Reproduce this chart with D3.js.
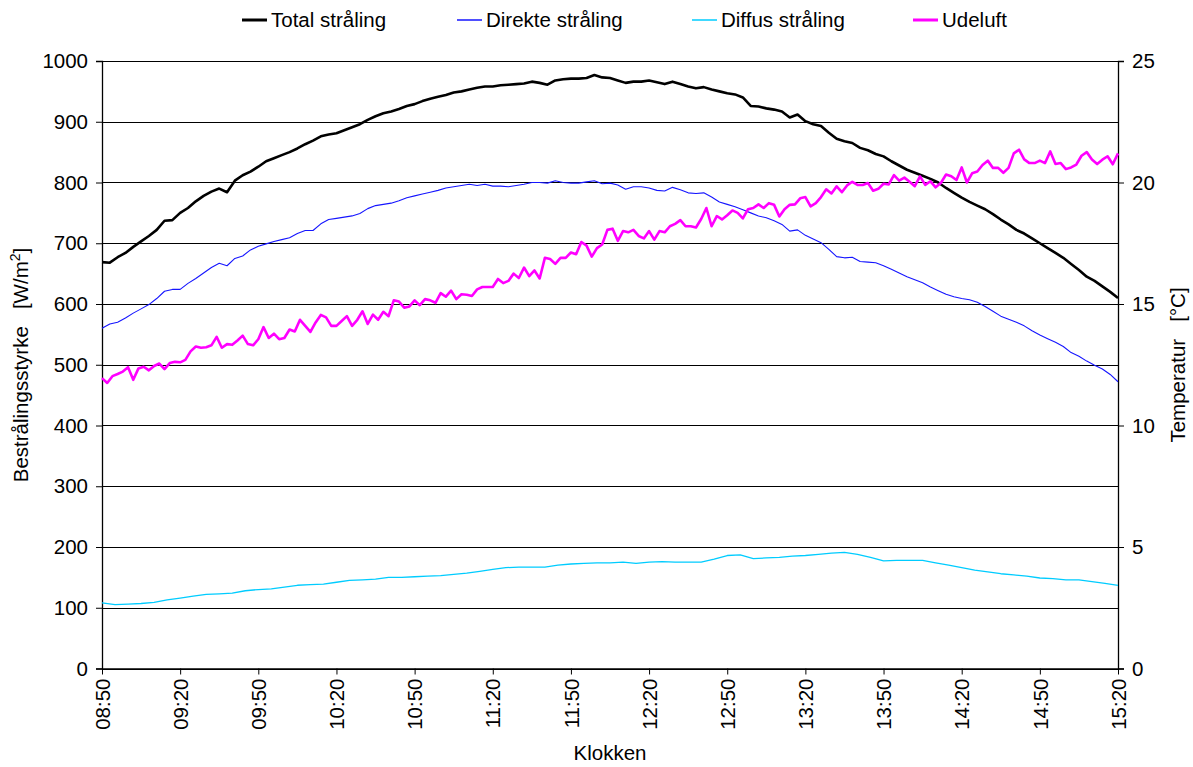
<!DOCTYPE html>
<html>
<head>
<meta charset="utf-8">
<script src="https://cdn.jsdelivr.net/npm/d3@7"></script>
<style>
  html, body { margin: 0; padding: 0; background: #fff; }
  svg { display: block; font-family: "Liberation Sans", Arial, sans-serif; }
  .pre { white-space: pre; }
</style>
</head>
<body>
<svg id="chart" width="1193" height="767"></svg>
<script>
// Clock tick labels along the time axis
const timeTicks = ["08:50","09:20","09:50","10:20","10:50","11:20","11:50","12:20","12:50","13:20","13:50","14:20","14:50","15:20"];
const leftTicks = [0,100,200,300,400,500,600,700,800,900,1000];
const rightTicks = [0,5,10,15,20,25];

// Total irradiance [W/m2], one reading every 3 minutes from 08:50
const totalStep = 3;
const totalValues = [669,668,677,684,694,703,712,722,737,738,750,758,769,778,785,790,784,803,812,818,
  826,835,840,845,850,856,863,869,876,879,881,886,891,896,903,909,914,917,921,926,
  929,934,938,941,944,948,950,953,956,958,958,960,961,962,963,966,964,961,968,970,
  971,971,972,977,973,972,968,964,966,966,968,965,962,966,962,958,955,957,953,950,
  947,945,940,926,925,922,920,917,907,912,901,896,893,882,872,868,865,857,853,847,
  843,835,828,821,816,811,806,800,791,783,775,768,762,756,748,739,731,722,716,708,
  700,692,684,676,666,656,645,638,629,620,610];

// Direct irradiance [W/m2], every 3 minutes
const direkteStep = 3;
const direkteValues = [560,567,570,577,585,592,599,609,621,624,624,634,642,651,660,667,663,675,679,689,
  695,699,703,706,709,716,721,721,732,739,741,743,745,749,757,762,764,766,770,775,
  778,781,784,787,791,793,795,797,795,797,794,794,793,795,797,800,800,799,803,800,
  799,799,801,803,798,799,796,789,793,793,791,787,786,792,788,783,782,783,776,768,
  764,760,755,750,745,742,737,731,720,722,713,707,701,690,678,676,677,670,669,668,
  663,657,651,645,640,635,628,622,616,612,609,607,603,596,588,580,575,570,564,556,
  549,543,537,530,520,514,506,499,493,484,472];

// Diffuse irradiance [W/m2], every 5 minutes
const diffusStep = 5;
const diffusValues = [108,105,106,107,109,113,116,119,122,123,124,128,130,131,134,137,138,139,142,145,
  146,147,150,150,151,152,153,155,157,160,163,166,167,167,167,170,172,173,174,174,
  175,173,175,176,175,175,175,180,186,187,181,182,183,185,186,188,190,191,188,183,
  177,178,178,178,174,170,166,162,159,156,154,152,149,148,146,146,143,140,137];

// Outdoor air temperature [°C], every 2 minutes
const udeluftStep = 2;
const udeluftValues = [11.95,11.75,12.03,12.12,12.22,12.40,11.88,12.35,12.42,12.27,12.45,12.55,12.32,12.57,12.62,12.60,12.70,13.05,13.25,13.20,
  13.22,13.30,13.65,13.20,13.35,13.32,13.50,13.70,13.35,13.30,13.55,14.05,13.60,13.78,13.55,13.60,13.95,13.87,14.35,14.10,
  13.85,14.24,14.55,14.45,14.10,14.10,14.30,14.50,14.10,14.35,14.70,14.18,14.56,14.35,14.68,14.50,15.15,15.10,14.85,14.90,
  15.15,14.95,15.20,15.15,15.05,15.45,15.30,15.55,15.20,15.40,15.38,15.33,15.60,15.70,15.70,15.70,16.03,15.86,15.95,16.25,
  16.07,16.50,16.15,16.38,16.05,16.90,16.85,16.65,16.90,16.90,17.12,17.05,17.55,17.40,16.95,17.30,17.45,18.05,18.10,17.60,
  18.00,17.95,18.05,17.80,17.70,18.00,17.65,18.00,17.95,18.20,18.30,18.45,18.20,18.20,18.15,18.50,18.95,18.20,18.62,18.48,
  18.65,18.85,18.75,18.52,18.90,18.95,19.10,18.95,19.15,19.08,18.60,18.90,19.08,19.10,19.35,19.40,19.02,19.15,19.40,19.72,
  19.55,19.84,19.60,19.88,20.03,19.90,19.90,19.98,19.66,19.74,19.95,19.92,20.30,20.08,20.20,20.03,19.85,20.25,19.90,20.05,
  19.80,19.98,20.33,20.26,20.10,20.62,20.00,20.38,20.45,20.72,20.90,20.60,20.60,20.40,20.60,21.20,21.35,20.95,20.80,20.80,
  20.90,20.80,21.28,20.76,20.80,20.55,20.62,20.74,21.10,21.25,20.95,20.76,20.94,21.08,20.75,21.20];

const seriesNames = ["Total stråling","Direkte stråling","Diffus stråling","Udeluft"];

// ---------------------------------------------------------------
const svg = d3.select("#chart");
const plot = { left: 102, right: 1118, top: 61, bottom: 668.5 };
const font = 20.5;

const parseClock = d3.timeParse("%H:%M");
const start = parseClock(timeTicks[0]);
const end = parseClock(timeTicks[timeTicks.length - 1]);
const atMinute = m => new Date(start.getTime() + m * 60000);

const x = d3.scaleTime().domain([start, end]).range([plot.left, plot.right]);
const yL = d3.scaleLinear().domain([0, 1000]).range([plot.bottom, plot.top]);
const yR = d3.scaleLinear().domain([0, 25]).range([plot.bottom, plot.top]);

// horizontal gridlines
svg.append("g")
  .selectAll("line")
  .data(leftTicks)
  .join("line")
  .attr("x1", plot.left).attr("x2", plot.right)
  .attr("y1", d => Math.round(yL(d)) + 0.5).attr("y2", d => Math.round(yL(d)) + 0.5)
  .attr("stroke", "#000")
  .attr("stroke-width", 1);

// left axis
const leftAxis = svg.append("g")
  .attr("transform", `translate(${plot.left},0)`)
  .call(d3.axisLeft(yL).tickValues(leftTicks).tickSize(6).tickPadding(8).tickFormat(d3.format("d")));
// right axis
const rightAxis = svg.append("g")
  .attr("transform", `translate(${plot.right},0)`)
  .call(d3.axisRight(yR).tickValues(rightTicks).tickSize(6).tickPadding(8).tickFormat(d3.format("d")));
// bottom axis
const bottomAxis = svg.append("g")
  .attr("transform", `translate(0,${plot.bottom})`)
  .call(d3.axisBottom(x).tickValues(timeTicks.map(parseClock)).tickSize(6).tickSizeOuter(0).tickFormat(d3.timeFormat("%H:%M")));

[leftAxis, rightAxis, bottomAxis].forEach(g => {
  g.select(".domain").attr("stroke", "#000").attr("stroke-width", 1.3);
  g.selectAll(".tick line").attr("stroke", "#000");
  g.selectAll("text").attr("font-size", font).attr("fill", "#000")
    .attr("font-family", '"Liberation Sans", Arial, sans-serif');
});
bottomAxis.selectAll("text")
  .attr("transform", "rotate(-90)")
  .attr("text-anchor", "end")
  .attr("x", -10).attr("y", 0).attr("dy", "0.35em");

// series lines
const lineL = (step) => d3.line().x((d, i) => x(atMinute(i * step))).y(d => yL(d));
const lineR = (step) => d3.line().x((d, i) => x(atMinute(i * step))).y(d => yR(d));

const series = [
  { name: seriesNames[2], values: diffusValues, gen: lineL(diffusStep), color: "#00ccff", width: 1.3 },
  { name: seriesNames[1], values: direkteValues, gen: lineL(direkteStep), color: "#1515ff", width: 1.1 },
  { name: seriesNames[0], values: totalValues, gen: lineL(totalStep), color: "#000000", width: 2.6 },
  { name: seriesNames[3], values: udeluftValues, gen: lineR(udeluftStep), color: "#ff00ff", width: 2.6 }
];

svg.append("g").selectAll("path")
  .data(series)
  .join("path")
  .attr("d", d => d.gen(d.values))
  .attr("fill", "none")
  .attr("stroke", d => d.color)
  .attr("stroke-width", d => d.width)
  .attr("stroke-linejoin", "round");

// legend
const legendItems = [
  { name: seriesNames[0], color: "#000000", w: 3, x: 242 },
  { name: seriesNames[1], color: "#1515ff", w: 1.5, x: 457 },
  { name: seriesNames[2], color: "#00ccff", w: 1.5, x: 692 },
  { name: seriesNames[3], color: "#ff00ff", w: 3, x: 913 }
];
const lg = svg.append("g").selectAll("g").data(legendItems).join("g")
  .attr("transform", d => `translate(${d.x},20)`);
lg.append("line").attr("x1", 0).attr("x2", 25).attr("y1", 0).attr("y2", 0)
  .attr("stroke", d => d.color).attr("stroke-width", d => d.w);
lg.append("text").attr("x", 29).attr("dy", "0.35em").attr("font-size", font)
  .text(d => d.name);

// axis titles
const lt = svg.append("text")
  .attr("class", "pre")
  .attr("transform", "translate(28,365) rotate(-90)")
  .attr("text-anchor", "middle").attr("font-size", font);
lt.append("tspan").text("Bestrålingsstyrke   [W/m");
lt.append("tspan").attr("dy", -8).attr("font-size", 14).text("2");
lt.append("tspan").attr("dy", 8).text("]");

svg.append("text")
  .attr("class", "pre")
  .attr("transform", "translate(1185,365) rotate(-90)")
  .attr("text-anchor", "middle").attr("font-size", font)
  .text("Temperatur   [°C]");

svg.append("text")
  .attr("x", 610).attr("y", 760)
  .attr("text-anchor", "middle").attr("font-size", font)
  .text("Klokken");
</script>
</body>
</html>
